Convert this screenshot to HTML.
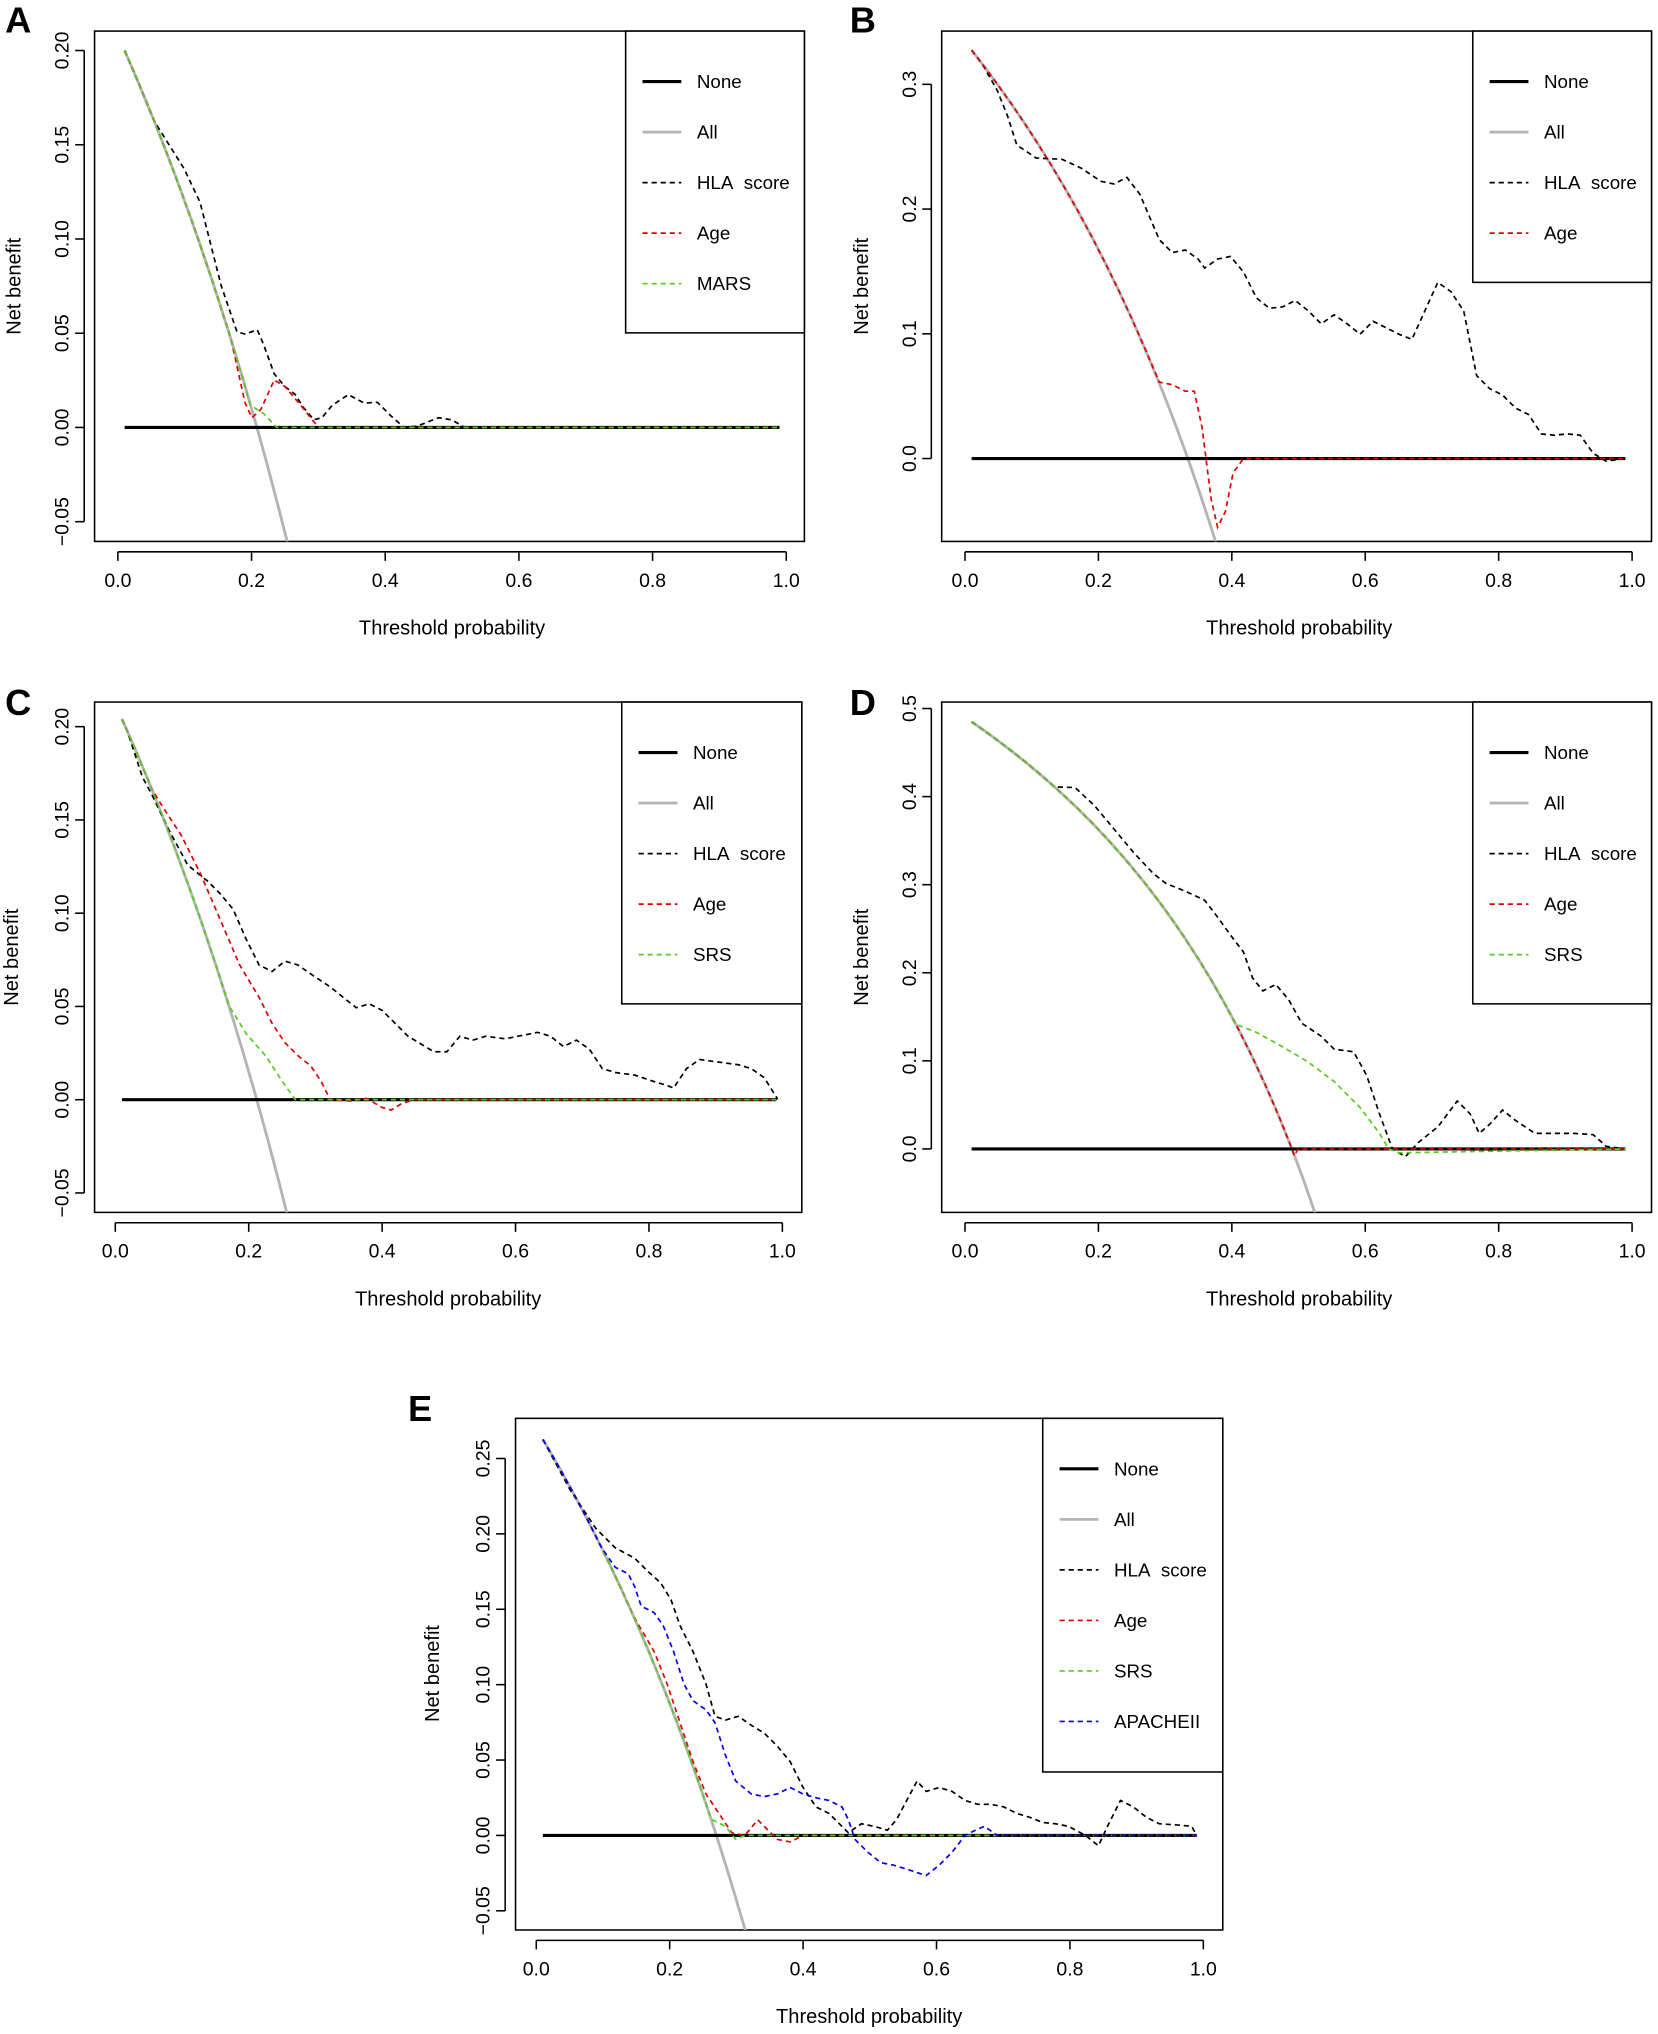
<!DOCTYPE html>
<html><head><meta charset="utf-8"><style>
html,body{margin:0;padding:0;background:#fff;overflow:hidden;width:1658px;height:2034px}
svg{display:block}
text{font-family:"Liberation Sans",Arial,sans-serif;fill:#000}
</style></head><body>
<svg id="s" width="1658" height="2034" viewBox="0 0 1280 1570.3" xmlns="http://www.w3.org/2000/svg">
<g font-weight="bold" font-size="28">
<text x="4" y="25">A</text><text x="656" y="25">B</text>
<text x="4" y="552">C</text><text x="656" y="552">D</text>
<text x="315" y="1097">E</text>
</g>
<g font-size="15.5" text-anchor="middle">
<text x="349" y="490">Threshold probability</text>
<text x="1003" y="490">Threshold probability</text>
<text x="346" y="1008">Threshold probability</text>
<text x="1003" y="1008">Threshold probability</text>
<text x="671" y="1562">Threshold probability</text>
<text transform="translate(16,221) rotate(-90)">Net benefit</text>
<text transform="translate(670,221) rotate(-90)">Net benefit</text>
<text transform="translate(14,739) rotate(-90)">Net benefit</text>
<text transform="translate(670,739) rotate(-90)">Net benefit</text>
<text transform="translate(339,1292) rotate(-90)">Net benefit</text>
</g>
<g id="g"></g>
</svg>
<script>
var NS="http://www.w3.org/2000/svg",G=document.getElementById("g");
function el(n,a,t){var e=document.createElementNS(NS,n);for(var k in a)e.setAttribute(k,a[k]);if(t!==undefined)e.textContent=t;G.appendChild(e);return e;}
var cid=0;
function panel(P){
 var W=P.tx1-P.tx0;
 function X(t){return P.tx0+W*t;} function Y(v){return P.yz-v*P.k;}
 cid++;
 var cp=document.createElementNS(NS,"clipPath");cp.setAttribute("id","c"+cid);
 var r=document.createElementNS(NS,"rect");r.setAttribute("x",P.b[0]);r.setAttribute("y",P.b[2]);r.setAttribute("width",P.b[1]-P.b[0]);r.setAttribute("height",P.b[3]-P.b[2]);cp.appendChild(r);G.appendChild(cp);
 el("rect",{x:P.b[0],y:P.b[2],width:P.b[1]-P.b[0],height:P.b[3]-P.b[2],fill:"none",stroke:"#000","stroke-width":1.2});
 el("line",{x1:X(0),x2:X(1),y1:P.b[3]+8,y2:P.b[3]+8,stroke:"#000","stroke-width":1.2});
 for(var i=0;i<=5;i++){var x=X(i/5);el("line",{x1:x,x2:x,y1:P.b[3]+8,y2:P.b[3]+15,stroke:"#000","stroke-width":1.2});el("text",{x:x,y:P.b[3]+35,"font-size":15,"text-anchor":"middle"},(i/5).toFixed(1));}
 var yt=P.yt;
 el("line",{x1:P.b[0]-8,x2:P.b[0]-8,y1:Y(yt[0][0]),y2:Y(yt[yt.length-1][0]),stroke:"#000","stroke-width":1.2});
 yt.forEach(function(q){var y=Y(q[0]);el("line",{x1:P.b[0]-15,x2:P.b[0]-8,y1:y,y2:y,stroke:"#000","stroke-width":1.2});
  el("text",{transform:"translate("+(P.b[0]-20)+","+y+") rotate(-90)","font-size":15,"text-anchor":"middle"},q[1]);});
 var g=document.createElementNS(NS,"g");g.setAttribute("clip-path","url(#c"+cid+")");G.appendChild(g);
 function pl(pts,a){var e=document.createElementNS(NS,"polyline");e.setAttribute("points",pts.map(function(p){return p[0].toFixed(1)+","+p[1].toFixed(1)}).join(" "));e.setAttribute("fill","none");for(var k in a)e.setAttribute(k,a[k]);g.appendChild(e);}
 function allPts(xend){var o=[];for(var t=0.01;t<=0.99;t+=0.004){var x=X(t);if(x>xend)break;o.push([x,Y(P.p-(1-P.p)*t/(1-t))]);}return o;}
 pl(allPts(9999),{stroke:"#b4b4b4","stroke-width":2.2});
 pl([[X(0.01),P.yz],[X(0.99),P.yz]],{stroke:"#000","stroke-width":2.4});
 P.s.forEach(function(s){var pts=(s.f?allPts(s.f):[]).concat(s.p);pts.push([X(0.99),P.yz]);pl(pts,{stroke:s.c,"stroke-width":1.3,"stroke-dasharray":"4,3"});});
 var L=P.L;el("rect",{x:L[0],y:L[1],width:L[2]-L[0],height:L[3]-L[1],fill:"#fff",stroke:"#000","stroke-width":1.2});
 var items=[["None","#000",2.4,null],["All","#b4b4b4",2.2,null]].concat(P.s.map(function(s){return [s.n,s.c,1.3,"4,3"]}));
 items.forEach(function(it,i){var y=L[1]+39+39*i;var a={x1:L[0]+13,x2:L[0]+43,y1:y,y2:y,stroke:it[1],"stroke-width":it[2]};if(it[3])a["stroke-dasharray"]=it[3];el("line",a);
  el("text",{x:L[0]+55,y:y+5,"font-size":14.5},it[0]);});
}
var K="#000",R="#e00000",Gr="#55cc22",B="#0000ee",HS="HLA\u00a0\u00a0score";
var t5=[[-0.05,"\u22120.05"],[0,"0.00"],[0.05,"0.05"],[0.1,"0.10"],[0.15,"0.15"],[0.2,"0.20"]];
panel({b:[73,621,24,418],tx0:91,tx1:607,yz:330,k:1455,p:0.208,yt:t5,L:[483,24,621,257],
 s:[{n:HS,c:K,f:120,p:[[125.8,104.3],[142.1,130.2],[154.4,156.1],[170.8,220.7],[183,256.3],[189.2,257.9],[198.6,254.6],[203.5,266],[211.7,288.6],[219.8,298.3],[228,304.7],[234.2,314.5],[242.3,324.1],[248.5,322.5],[256.6,312.8],[268.9,304.7],[281.2,311.2],[291.4,310.6],[301.6,320.9],[311.9,330],[322.1,329],[338.4,322.5],[348.7,324.1],[358.9,330]]},
 {n:"Age",c:R,f:179,p:[[189.2,311.2],[194.5,322.5],[201.4,316],[211.7,293.4],[219.8,298.3],[232.1,312.8],[242.3,325.7],[246.4,330]]},
 {n:"MARS",c:Gr,f:185,p:[[193.2,312.8],[203.5,319.3],[213.7,330]]}]});
panel({b:[727,1275,24,418],tx0:745,tx1:1260,yz:354,k:963,p:0.334,yt:[[0,"0.0"],[0.1,"0.1"],[0.2,"0.2"],[0.3,"0.3"]],L:[1137,24,1275,218],
 s:[{n:HS,c:K,f:760,p:[[770,70],[778,90],[785,112],[800,122],[820,123],[835,130],[850,140],[860,142],[870,137],[880,150],[895,185],[905,195],[915,193],[925,200],[930,207],[940,200],[950,198],[960,210],[970,230],[980,238],[990,237],[1000,232],[1010,240],[1020,250],[1030,243],[1040,250],[1050,258],[1060,248],[1070,253],[1080,258],[1090,262],[1100,240],[1110,218],[1120,225],[1130,240],[1140,290],[1150,300],[1160,305],[1170,315],[1180,320],[1190,335],[1200,336],[1210,335],[1220,336],[1230,350],[1240,356]]},
 {n:"Age",c:R,f:885,p:[[895,295],[905,297],[915,302],[922,302],[928,330],[935,385],[940,407],[946,395],[952,365],[960,354]]}]});
panel({b:[73,619,542,936],tx0:89,tx1:604,yz:849,k:1440,p:0.212,yt:t5,L:[480,542,619,775],
 s:[{n:HS,c:K,f:100,p:[[110,600],[118,615],[130,640],[145,668],[160,680],[170,690],[180,702],[190,725],[200,745],[210,750],[220,742],[230,745],[240,752],[255,762],[265,770],[275,778],[285,775],[295,780],[305,790],[315,800],[325,806],[335,812],[345,812],[355,800],[365,803],[375,800],[390,802],[400,800],[415,797],[425,800],[435,808],[445,803],[455,810],[465,825],[475,828],[490,830],[505,835],[515,838],[520,840],[530,825],[540,818],[555,820],[570,822],[580,825],[590,832],[600,848]]},
 {n:"Age",c:R,f:118,p:[[125,622],[140,645],[155,675],[170,710],[185,745],[200,770],[210,790],[220,805],[230,815],[240,823],[248,835],[255,849],[270,850],[283,848],[295,855],[302,857],[310,852],[320,849]]},
 {n:"SRS",c:Gr,f:178,p:[[190,798],[205,815],[218,835],[228,849]]}]});
panel({b:[727,1275,542,936],tx0:745,tx1:1260,yz:887,k:680,p:0.49,yt:[[0,"0.0"],[0.1,"0.1"],[0.2,"0.2"],[0.3,"0.3"],[0.4,"0.4"],[0.5,"0.5"]],L:[1137,542,1275,775],
 s:[{n:HS,c:K,f:815,p:[[830,608],[845,622],[860,640],[875,658],[890,674],[900,682],[915,688],[930,695],[940,708],[950,722],[960,735],[967,755],[975,765],[985,760],[995,772],[1005,790],[1020,800],[1030,810],[1045,812],[1055,830],[1065,860],[1075,887],[1085,893],[1095,882],[1110,870],[1125,850],[1135,860],[1142,875],[1150,868],[1160,857],[1170,865],[1185,875],[1200,875],[1215,875],[1230,876],[1240,885]]},
 {n:"Age",c:R,f:1000,p:[[1002,887]]},
 {n:"SRS",c:Gr,f:955,p:[[970,797],[990,808],[1010,820],[1030,835],[1050,855],[1065,875],[1072,887],[1080,890]]}]});
panel({b:[398,944,1095,1490],tx0:414,tx1:929,yz:1417,k:1164,p:0.27,yt:[[-0.05,"\u22120.05"],[0,"0.00"],[0.05,"0.05"],[0.1,"0.10"],[0.15,"0.15"],[0.2,"0.20"],[0.25,"0.25"]],L:[805,1095,944,1368],
 s:[{n:HS,c:K,f:420,p:[[440,1150],[460,1180],[475,1195],[490,1203],[500,1213],[510,1222],[518,1235],[525,1255],[535,1275],[545,1300],[552,1325],[560,1328],[570,1325],[580,1332],[590,1338],[600,1348],[610,1360],[620,1380],[630,1395],[640,1400],[650,1410],[655,1415],[665,1408],[675,1410],[685,1413],[692,1405],[700,1390],[708,1375],[715,1383],[725,1380],[735,1383],[745,1390],[755,1393],[765,1393],[775,1395],[785,1400],[795,1403],[805,1407],[815,1408],[825,1410],[838,1417],[848,1425],[855,1410],[865,1390],[875,1395],[885,1403],[895,1408],[910,1409],[920,1410]]},
 {n:"Age",c:R,f:490,p:[[505,1275],[515,1300],[525,1330],[535,1360],[545,1385],[555,1400],[565,1415],[575,1417],[585,1405],[590,1410],[600,1420],[610,1422],[620,1417]]},
 {n:"SRS",c:Gr,f:550,p:[[560,1410],[568,1420],[575,1417]]},
 {n:"APACHEII",c:B,f:465,p:[[475,1210],[485,1215],[490,1225],[495,1240],[505,1245],[512,1255],[520,1275],[528,1300],[535,1313],[545,1320],[552,1330],[560,1355],[568,1375],[580,1385],[590,1387],[600,1385],[610,1380],[620,1385],[630,1388],[640,1390],[650,1395],[655,1405],[660,1420],[670,1430],[680,1438],[690,1440],[700,1443],[715,1448],[725,1440],[735,1430],[745,1417],[755,1412],[760,1410],[770,1417]]}]});
</script>
</body></html>
